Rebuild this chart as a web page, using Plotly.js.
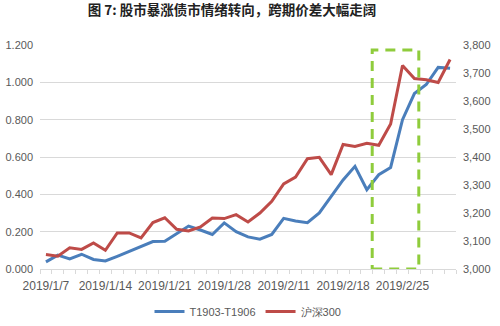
<!DOCTYPE html>
<html>
<head>
<meta charset="utf-8">
<script src="https://cdn.plot.ly/plotly-3.0.1.min.js"></script>
<style>
html,body{margin:0;padding:0;background:#fff;}
#chart{width:500px;height:326px;}
</style>
</head>
<body>
<div id="chart"></div>
<script>
// Trading days (categories)
const dates = [
  "2019/1/7","2019/1/8","2019/1/9","2019/1/10","2019/1/11",
  "2019/1/14","2019/1/15","2019/1/16","2019/1/17","2019/1/18",
  "2019/1/21","2019/1/22","2019/1/23","2019/1/24","2019/1/25",
  "2019/1/28","2019/1/29","2019/1/30","2019/1/31","2019/2/1",
  "2019/2/11","2019/2/12","2019/2/13","2019/2/14","2019/2/15",
  "2019/2/18","2019/2/19","2019/2/20","2019/2/21","2019/2/22",
  "2019/2/25","2019/2/26","2019/2/27","2019/2/28","2019/3/1"
];
// Labelled ticks
const tickLabels = ["2019/1/7","2019/1/14","2019/1/21","2019/1/28","2019/2/11","2019/2/18","2019/2/25"];

// T1903-T1906 spread (left axis)
const spread = [
  0.038, 0.074, 0.054, 0.079, 0.051,
  0.043, 0.068, 0.095, 0.118, 0.147,
  0.148, 0.190, 0.230, 0.209, 0.185,
  0.247, 0.200, 0.172, 0.160, 0.185,
  0.271, 0.257, 0.248, 0.300, 0.391,
  0.477, 0.550, 0.425, 0.505, 0.544,
  0.800, 0.940, 0.988, 1.080, 1.075
];
// CSI 300 (right axis)
const csi300 = [
  3052, 3046, 3076, 3070, 3093,
  3067, 3129, 3129, 3111, 3166,
  3183, 3142, 3136, 3150, 3182,
  3180, 3194, 3168, 3200, 3242,
  3304, 3328, 3394, 3399, 3337,
  3445, 3438, 3449, 3442, 3518,
  3727, 3680, 3676, 3666, 3748
];

const seriesNames = ["T1903-T1906", "沪深300"];
const leftTicks = [0, 0.2, 0.4, 0.6, 0.8, 1.0, 1.2];
const rightTicks = [3000, 3100, 3200, 3300, 3400, 3500, 3600, 3700, 3800];

const tickText = dates.map(d => tickLabels.includes(d) ? d : "");

const traces = [
  {
    x: dates, y: spread, name: seriesNames[0], type: "scatter", mode: "lines",
    line: {color: "#4a7ebb", width: 3}, yaxis: "y"
  },
  {
    x: dates, y: csi300, name: seriesNames[1], type: "scatter", mode: "lines",
    line: {color: "#be4b48", width: 3}, yaxis: "y2"
  }
];

const tickFont = {family: "Liberation Sans, Arial, sans-serif", size: 11, color: "#595959"};

const layout = {
  width: 500, height: 326,
  margin: {l: 40, r: 44, t: 45, b: 57, autoexpand: false},
  paper_bgcolor: "#ffffff", plot_bgcolor: "#ffffff",
  title: {
    text: "<b>图 7: 股市暴涨债市情绪转向，跨期价差大幅走阔</b>",
    font: {family: "Noto Sans CJK SC, sans-serif", size: 13.5, color: "#222222"},
    x: 0.464, xanchor: "center", y: 0.967, yanchor: "middle"
  },
  showlegend: true,
  legend: {
    orientation: "h", x: 0.5, xanchor: "center", y: -0.19, yanchor: "middle",
    font: {family: "Liberation Sans, Arial, sans-serif", size: 11, color: "#595959"},
    itemwidth: 30, tracegroupgap: 0
  },
  xaxis: {
    type: "category", automargin: false,
    tickvals: dates, ticktext: tickText,
    tickson: "boundaries",
    ticks: "outside", ticklen: 4, tickcolor: "#d9d9d9", tickwidth: 1,
    ticklabelstandoff: 6,
    showgrid: false, zeroline: false,
    showline: true, linecolor: "#d9d9d9", linewidth: 1,
    tickfont: {family: "Liberation Sans, Arial, sans-serif", size: 12, color: "#595959"},
    tickangle: 0,
    range: [-0.5, dates.length - 0.5]
  },
  yaxis: {
    automargin: false,
    range: [0, 1.2], tickvals: leftTicks, tickformat: ".3f",
    showgrid: true, gridcolor: "#d9d9d9", gridwidth: 1,
    zeroline: false, showline: false, ticks: "",
    tickfont: tickFont, ticklabelstandoff: 6
  },
  yaxis2: {
    automargin: false,
    overlaying: "y", side: "right",
    range: [3000, 3800], tickvals: rightTicks, tickformat: ",d",
    showgrid: false, zeroline: false, showline: false, ticks: "",
    tickfont: tickFont, ticklabelstandoff: 6
  },
  shapes: [
    {
      type: "rect", xref: "x", yref: "y",
      x0: 27.45, x1: 31.37, y0: 0, y1: 1.173,
      line: {color: "#8fcc3c", width: 3, dash: "10px,7px"},
      fillcolor: "rgba(0,0,0,0)"
    }
  ]
};

Plotly.newPlot("chart", traces, layout, {displayModeBar: false, staticPlot: true});
</script>
</body>
</html>
